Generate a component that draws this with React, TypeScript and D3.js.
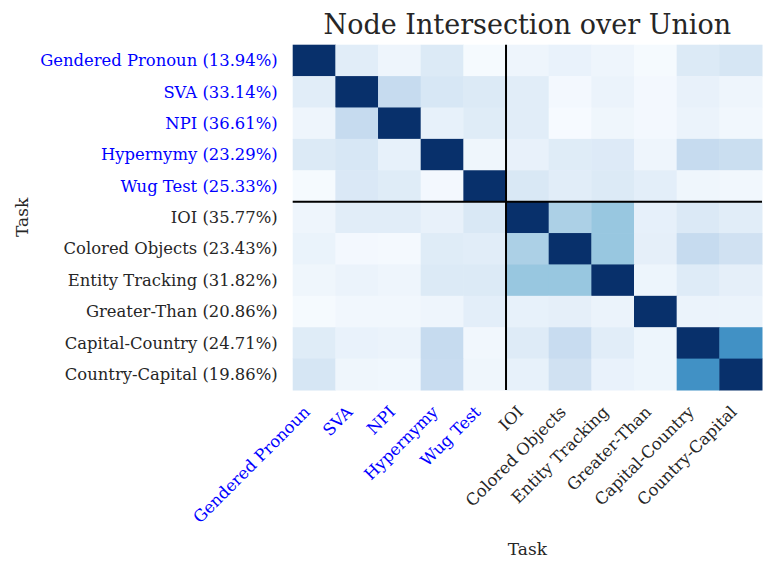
import { useEffect, useRef } from "react";
import * as d3 from "d3";

const tasks = [
  "Gendered Pronoun",
  "SVA",
  "NPI",
  "Hypernymy",
  "Wug Test",
  "IOI",
  "Colored Objects",
  "Entity Tracking",
  "Greater-Than",
  "Capital-Country",
  "Country-Capital",
];

const nodeShare = ["13.94%", "33.14%", "36.61%", "23.29%", "25.33%", "35.77%", "23.43%", "31.82%", "20.86%", "24.71%", "19.86%"];

// first five are the "linguistic" tasks, drawn in blue
const blueTasks = ["Gendered Pronoun", "SVA", "NPI", "Hypernymy", "Wug Test"];

// IoU values, row by row
const iou = [
  [1, 0.11, 0.045, 0.135, 0.01, 0.045, 0.07, 0.045, 0.01, 0.135, 0.165],
  [0.11, 1, 0.25, 0.16, 0.135, 0.11, 0.02, 0.06, 0.02, 0.075, 0.045],
  [0.045, 0.25, 1, 0.08, 0.12, 0.11, 0.005, 0.04, 0.02, 0.06, 0.03],
  [0.135, 0.16, 0.08, 1, 0.04, 0.075, 0.12, 0.13, 0.045, 0.25, 0.23],
  [0.01, 0.145, 0.12, 0.02, 1, 0.15, 0.11, 0.135, 0.1, 0.04, 0.03],
  [0.045, 0.11, 0.11, 0.075, 0.15, 1, 0.33, 0.39, 0.085, 0.14, 0.11],
  [0.065, 0.02, 0.015, 0.12, 0.11, 0.33, 1, 0.39, 0.09, 0.25, 0.2],
  [0.04, 0.06, 0.045, 0.135, 0.135, 0.39, 0.39, 1, 0.05, 0.125, 0.09],
  [0.01, 0.03, 0.03, 0.045, 0.1, 0.08, 0.09, 0.06, 1, 0.06, 0.06],
  [0.12, 0.07, 0.06, 0.25, 0.03, 0.125, 0.24, 0.11, 0.05, 1, 0.63],
  [0.165, 0.04, 0.035, 0.24, 0.04, 0.08, 0.2, 0.07, 0.05, 0.63, 1],
];

const blues = ["#f7fbff", "#deebf7", "#c6dbef", "#9ecae1", "#6baed6", "#4292c6", "#2171b5", "#08519c", "#08306b"];

const FONT = "'DejaVu Serif', serif";
const INK = "#262626";

export default function App() {
  const svgRef = useRef<SVGSVGElement>(null);

  useEffect(() => {
    const svg = d3.select(svgRef.current);
    svg.selectAll("*").remove();

    const W = 774, H = 574;
    const left = 292.7, right = 762, top = 44.7, bottom = 390;

    const x = d3.scaleBand().domain(tasks).range([left, right]);
    const y = d3.scaleBand().domain(tasks).range([top, bottom]);
    const color = d3
      .scaleLinear<string>()
      .domain(blues.map((_, i) => i / (blues.length - 1)))
      .range(blues)
      .interpolate(d3.interpolateRgb);

    svg.append("rect").attr("width", W).attr("height", H).attr("fill", "#fff");

    const cells = iou.flatMap((row, i) => row.map((v, j) => ({ r: tasks[i], c: tasks[j], v })));

    svg
      .append("g")
      .selectAll("rect")
      .data(cells)
      .join("rect")
      .attr("x", (d) => x(d.c)!)
      .attr("y", (d) => y(d.r)!)
      .attr("width", x.bandwidth() + 0.5)
      .attr("height", y.bandwidth() + 0.5)
      .attr("fill", (d) => color(d.v));

    // divider between the two task groups
    const split = x(tasks[5])!;
    const splitY = y(tasks[5])!;
    svg.append("line")
      .attr("x1", split).attr("x2", split)
      .attr("y1", top).attr("y2", bottom)
      .attr("stroke", "#000").attr("stroke-width", 2);
    svg.append("line")
      .attr("x1", left).attr("x2", right)
      .attr("y1", splitY).attr("y2", splitY)
      .attr("stroke", "#000").attr("stroke-width", 2);

    // y tick labels
    svg
      .append("g")
      .selectAll("text")
      .data(tasks)
      .join("text")
      .attr("x", left - 15)
      .attr("y", (d) => y(d)! + y.bandwidth() / 2)
      .attr("dy", "0.35em")
      .attr("text-anchor", "end")
      .attr("font-family", FONT)
      .attr("font-size", 16.4)
      .attr("fill", (d) => (blueTasks.includes(d) ? "#0000ff" : INK))
      .text((d, i) => `${d} (${nodeShare[i]})`);

    // x tick labels
    svg
      .append("g")
      .selectAll("text")
      .data(tasks)
      .join("text")
      .attr("transform", (d) => `translate(${x(d)! + x.bandwidth() / 2 - 3},${bottom + 23}) rotate(-45)`)
      .attr("text-anchor", "end")
      .attr("font-family", FONT)
      .attr("font-size", 16.4)
      .attr("fill", (d) => (blueTasks.includes(d) ? "#0000ff" : INK))
      .text((d) => d);

    svg.append("text")
      .attr("x", (left + right) / 2)
      .attr("y", 34)
      .attr("text-anchor", "middle")
      .attr("font-family", FONT)
      .attr("font-size", 27)
      .attr("fill", INK)
      .text("Node Intersection over Union");

    svg.append("text")
      .attr("x", (left + right) / 2)
      .attr("y", 555)
      .attr("text-anchor", "middle")
      .attr("font-family", FONT)
      .attr("font-size", 17)
      .attr("fill", INK)
      .text("Task");

    svg.append("text")
      .attr("transform", `translate(28,${(top + bottom) / 2}) rotate(-90)`)
      .attr("text-anchor", "middle")
      .attr("font-family", FONT)
      .attr("font-size", 17)
      .attr("fill", INK)
      .text("Task");
  }, []);

  return (
    <div style={{ position: "fixed", left: 0, top: 0 }}>
      <svg ref={svgRef} width={774} height={574} style={{ display: "block" }} />
    </div>
  );
}
